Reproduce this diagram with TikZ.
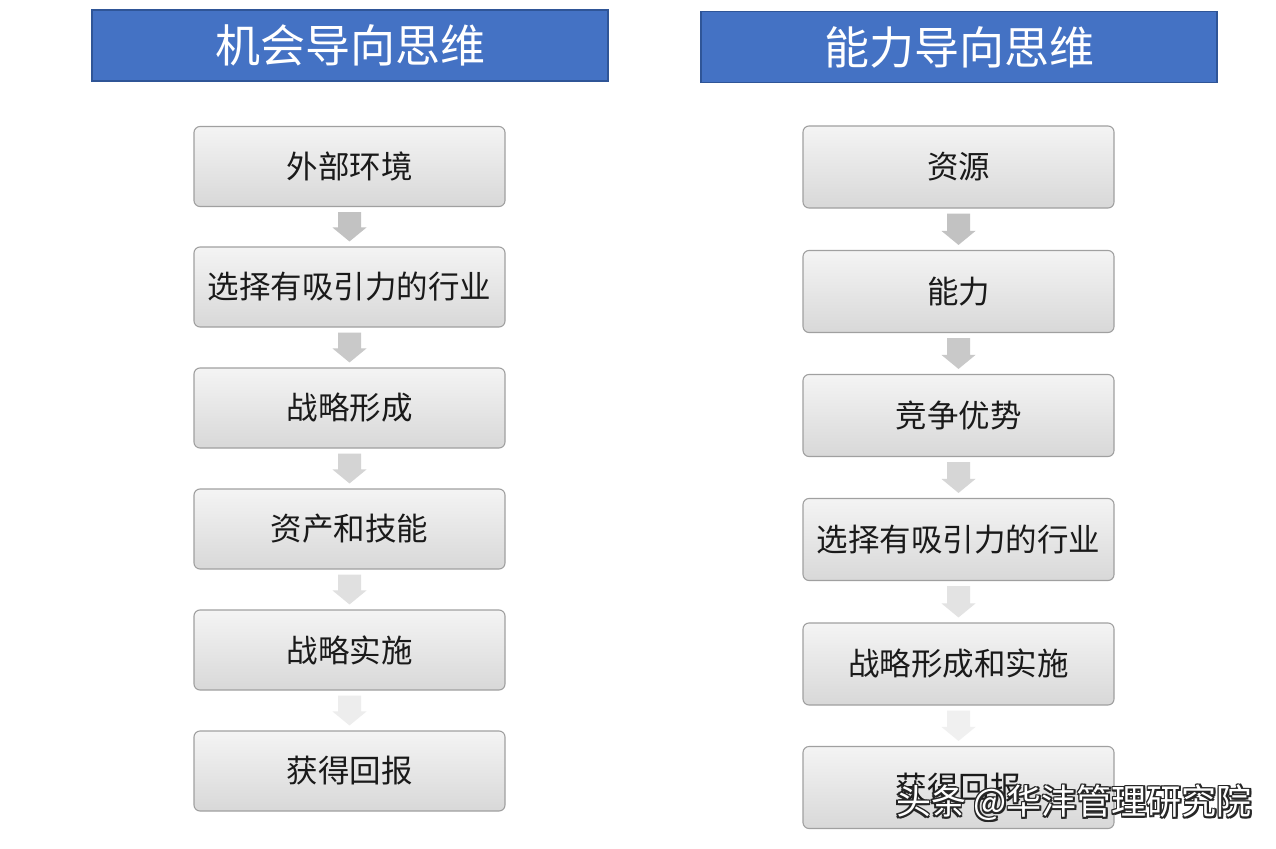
\documentclass[tikz,border=0pt]{standalone}
\usepackage{fontspec}
\newfontfamily\cjk{Noto Sans CJK SC}
\usetikzlibrary{calc}
\definecolor{hdrblue}{HTML}{4472C4}
\definecolor{hdrline}{HTML}{2F5597}
\definecolor{boxtop}{HTML}{F4F4F4}
\definecolor{boxbot}{HTML}{D8D8D8}
\definecolor{boxline}{HTML}{A0A0A0}
\definecolor{txt}{HTML}{1A1A1A}
\newcommand\blockarrow[3]{%
  \fill[#3] ($(#1.south)+(-11.5,5)$) -- ($(#1.south)+(11.5,5)$)
    -- ($(#2.north)+(11.5,-19)$) -- ($(#2.north)+(17,-19)$)
    -- ($(#2.north)+(0,-5)$) -- ($(#2.north)+(-17,-19)$)
    -- ($(#2.north)+(-11.5,-19)$) -- cycle;}
\begin{document}
\begin{tikzpicture}[x=1pt,y=-1pt,
  header/.style={draw=hdrline,line width=1.2pt,fill=hdrblue,minimum width=516pt,minimum height=71pt,
    text=white,font=\cjk\fontsize{45}{45}\selectfont,inner sep=0pt},
  stepbox/.style={draw=boxline,line width=1.1pt,rounded corners=6pt,top color=boxtop,bottom color=boxbot,
    minimum width=311pt,minimum height=#1,text=txt,font=\cjk\fontsize{31.5}{31.5}\selectfont,inner sep=0pt},
  stepbox/.default=80pt,
  wm/.style={font=\cjk\fontsize{35}{35}\selectfont,inner sep=0pt}]
\useasboundingbox (0,0) rectangle (1276,848);
\fill[white] (0,0) rectangle (1276,848);
% headers
\node[header] (hl) at (350,45.5) {机会导向思维};
\node[header] (hr) at (959,47) {能力导向思维};
% left column
\node[stepbox] (l1) at (349.5,166.5) {外部环境};
\node[stepbox] (l2) at (349.5,287) {选择有吸引力的行业};
\node[stepbox] (l3) at (349.5,408) {战略形成};
\node[stepbox] (l4) at (349.5,529) {资产和技能};
\node[stepbox] (l5) at (349.5,650) {战略实施};
\node[stepbox] (l6) at (349.5,771) {获得回报};
% right column
\node[stepbox=82pt] (r1) at (958.5,167) {资源};
\node[stepbox=82pt] (r2) at (958.5,291.5) {能力};
\node[stepbox=82pt] (r3) at (958.5,415.5) {竞争优势};
\node[stepbox=82pt] (r4) at (958.5,539.5) {选择有吸引力的行业};
\node[stepbox=82pt] (r5) at (958.5,664) {战略形成和实施};
\node[stepbox=82pt] (r6) at (958.5,787.5) {获得回报};
% arrows
\blockarrow{l1}{l2}{black!24}
\blockarrow{l2}{l3}{black!21}
\blockarrow{l3}{l4}{black!17}
\blockarrow{l4}{l5}{black!12}
\blockarrow{l5}{l6}{black!7}
\blockarrow{r1}{r2}{black!24}
\blockarrow{r2}{r3}{black!21}
\blockarrow{r3}{r4}{black!16}
\blockarrow{r4}{r5}{black!11}
\blockarrow{r5}{r6}{black!6}
% watermark
\foreach \dx/\dy [count=\i] in {-1.6/0,1.6/0,0/-1.6,0/1.6,-1.2/-1.2,1.2/1.2,-1.2/1.2,1.2/-1.2}
  \node[wm,text=black!85] (wmo\i) at (1074+\dx,803+\dy) {头条 @华沣管理研究院};
\node[wm,text=white] (wm) at (1074,803) {头条 @华沣管理研究院};
\end{tikzpicture}
\end{document}
